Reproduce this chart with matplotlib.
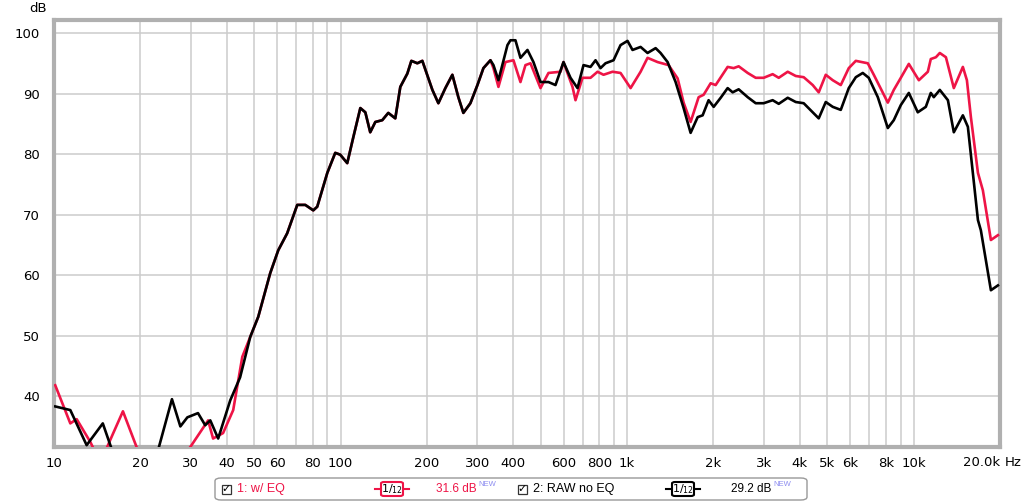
import numpy as np
import matplotlib
matplotlib.use("Agg")
from matplotlib import pyplot as plt
from matplotlib.patches import FancyBboxPatch, Rectangle

# RAW no EQ (black)
raw_freq = [10.1, 11.4, 13.0, 14.8, 16.1, 19.0, 22.9, 25.8, 27.6, 29.2, 31.8, 33.7, 35.1, 37.4,
            41.2, 44.6, 48.4, 51.6, 56.8, 60.6, 65.1, 70.6, 75.3, 80.3, 82.9, 89.9, 95.8, 99.7,
            105.5, 110.8, 117.2, 122.0, 126.9, 132.2, 139.8, 146.7, 155.2, 161.6, 171.0, 176.6,
            185.3, 192.9, 200.8, 209.1, 219.4, 232.1, 245.5, 257.6, 268.2, 283.8, 300.3, 315.1,
            333.4, 341.5, 355.5, 382.2, 391.5, 407.6, 424.3, 448.9, 471.0, 498.4, 531.5, 562.3,
            599.6, 634.3, 671.0, 704.2, 745.0, 775.6, 807.4, 840.4, 896.3, 948.2, 1003, 1044,
            1114, 1178, 1257, 1308, 1384, 1476, 1574, 1665, 1762, 1834, 1924, 2004, 2120, 2242,
            2334, 2450, 2634, 2809, 2995, 3219, 3380, 3633, 3875, 4131, 4442, 4661, 4932, 5217,
            5564, 5934, 6279, 6640, 6967, 7493, 8120, 8520, 9015, 9613, 10330, 11020, 11470,
            11750, 12330, 13160, 13800, 14840, 15450, 16080, 16750, 17150, 18590, 19670]
raw_db = [38.3, 37.7, 31.9, 35.5, 30.5, 27.0, 30.5, 39.5, 35.0, 36.5, 37.2, 35.2, 36.0, 33.0,
          39.3, 43.1, 49.8, 53.1, 60.3, 64.1, 66.9, 71.6, 71.6, 70.7, 71.3, 76.9, 80.2, 79.9,
          78.5, 82.8, 87.6, 86.9, 83.6, 85.3, 85.6, 86.8, 85.9, 91.1, 93.3, 95.4,
          95.0, 95.4, 93.0, 90.6, 88.4, 90.9, 93.1, 89.4, 86.8, 88.4, 91.4, 94.2,
          95.5, 94.7, 92.2, 98.0, 98.8, 98.8, 95.9, 97.2, 95.2, 91.9, 91.9, 91.4,
          95.2, 92.6, 90.9, 94.7, 94.4, 95.5, 94.2, 95.0, 95.5, 98.0, 98.7, 97.2,
          97.7, 96.7, 97.5, 96.7, 95.2, 91.9, 87.6, 83.5, 86.1, 86.4, 88.9, 87.8, 89.3, 90.9,
          90.2, 90.7, 89.4, 88.4, 88.4, 88.9, 88.3, 89.3, 88.6, 88.4, 86.9, 85.9, 88.6, 87.8,
          87.3, 90.9, 92.7, 93.4, 92.6, 89.4, 84.3, 85.6, 88.1, 90.1, 86.9, 87.8, 90.1,
          89.4, 90.6, 88.9, 83.6, 86.4, 84.5, 76.9, 69.1, 67.4, 57.5, 58.3]

# w/ EQ (red)
eq_freq = [10.1, 11.4, 12.0, 13.4, 14.5, 16.1, 17.4, 20.0, 23.0, 29.9, 34.5, 35.9, 38.9, 42.2,
           45.4, 48.4, 51.6, 56.8, 60.6, 65.1, 70.6, 75.3, 80.3, 82.9, 89.9, 95.8, 99.7,
           105.5, 110.8, 117.2, 122.0, 126.9, 132.2, 139.8, 146.7, 155.2, 161.6, 171.0, 176.6,
           185.3, 192.9, 200.8, 209.1, 219.4, 232.1, 245.5, 257.6, 268.2, 283.8, 300.3, 315.1,
           333.4, 341.5, 355.5, 376.1, 401.1, 424.3, 441.7, 459.8, 498.4, 531.5, 585.4, 599.6,
           644.6, 660.3, 698.6, 745.0, 788.2, 826.9, 889.1, 948.2, 1028, 1114, 1178, 1277,
           1395, 1500, 1574, 1665, 1776, 1849, 1956, 2036, 2242, 2353, 2450, 2634, 2809, 2995,
           3219, 3380, 3633, 3875, 4131, 4442, 4661, 4932, 5217, 5564, 5934, 6279, 6913, 7255,
           8120, 8520, 9015, 9613, 10420, 11200, 11470, 11950, 12330, 12950, 13800, 14840,
           15330, 15830, 16750, 17430, 18590, 19670]
eq_db = [41.8, 35.5, 36.2, 32.4, 29.0, 33.9, 37.5, 30.0, 25.0, 31.6, 36.0, 33.0, 33.9, 37.7,
         46.5, 49.8, 53.1, 60.3, 64.1, 66.9, 71.6, 71.6, 70.7, 71.3, 76.9, 80.2, 79.9,
         78.5, 82.8, 87.6, 86.9, 83.6, 85.3, 85.6, 86.8, 85.9, 91.1, 93.3, 95.4,
         95.0, 95.4, 93.0, 90.6, 88.4, 90.9, 93.1, 89.4, 86.8, 88.4, 91.4, 94.2,
         95.5, 94.2, 91.1, 95.2, 95.5, 91.9, 94.7, 95.0, 90.9, 93.4, 93.6, 95.2,
         91.1, 88.9, 92.6, 92.6, 93.6, 93.1, 93.6, 93.4, 90.9, 93.6, 95.9, 95.2,
         94.7, 92.5, 88.5, 85.3, 89.4, 89.8, 91.7, 91.4, 94.4, 94.2, 94.5, 93.4, 92.6, 92.6,
         93.2, 92.6, 93.6, 92.9, 92.7, 91.4, 90.2, 93.1, 92.2, 91.4, 94.2, 95.4, 95.0, 93.1,
         88.5, 90.6, 92.6, 94.9, 92.2, 93.6, 95.7, 96.0, 96.7, 96.0, 90.9, 94.4,
         92.2, 86.1, 76.9, 74.0, 65.8, 66.6]

grid_freqs = [10, 20, 30, 40, 50, 60, 70, 80, 90, 100, 200, 300, 400, 500, 600, 700, 800, 900,
              1000, 2000, 3000, 4000, 5000, 6000, 7000, 8000, 9000, 10000, 20000]
grid_labels = ["10", "20", "30", "40", "50", "60", "", "80", "", "100", "200", "300", "400", "",
               "600", "", "800", "", "1k", "2k", "3k", "4k", "5k", "6k", "", "8k", "", "10k", ""]
db_ticks = [40, 50, 60, 70, 80, 90, 100]

RED = "#ee1446"
W, H = 1024, 504
LEG_FONT = "Liberation Sans"

fig = plt.figure(figsize=(W / 100, H / 100), dpi=100)
ax = fig.add_axes([54 / W, 1 - 447 / H, (1000 - 54) / W, (447 - 20) / H])

ax.plot(eq_freq, eq_db, color=RED, lw=1.9, solid_joinstyle="round", zorder=3)
ax.plot(raw_freq, raw_db, color="black", lw=1.9, solid_joinstyle="round", zorder=4)

ax.set_xscale("log")
ax.set_xlim(10, 20000)
ax.set_ylim(31.6, 102.15)
ax.set_xticks(grid_freqs)
ax.set_xticklabels(grid_labels)
ax.xaxis.set_minor_locator(matplotlib.ticker.NullLocator())
ax.set_yticks(db_ticks)
ax.set_yticklabels([str(v) for v in db_ticks])
ax.tick_params(length=0, labelsize=9.5, pad=7, colors="black")
ax.tick_params(axis="y", pad=10)
ax.grid(True, color="#cccccc", lw=1.1)
ax.set_axisbelow(True)
for s in ax.spines.values():
    s.set_color("#b0b0b0")
    s.set_linewidth(3)

fig.text(38 / W, 1 - 8 / H, "dB", fontsize=9.5, ha="center", va="center")
fig.text(1000 / W, 1 - 463 / H, "20.0k", fontsize=9.5, ha="right", va="center")
fig.text(1005 / W, 1 - 463 / H, "Hz", fontsize=9.5, ha="left", va="center")

# legend strip at the bottom
fig.patches.append(FancyBboxPatch((215 / W, 1 - 500 / H), 592 / W, 22 / H,
                                  boxstyle="round,pad=0,rounding_size=0.006",
                                  transform=fig.transFigure, fc="white", ec="#999999", lw=1,
                                  zorder=0))

def legend_item(x0, name, color, icon_x, value, value_x):
    yc = 1 - 489 / H
    fig.patches.append(Rectangle((x0 / W, 1 - 494 / H), 9 / W, 9 / H, transform=fig.transFigure,
                                 fc="white", ec="#333333", lw=0.9, zorder=2))
    fig.text((x0 + 4.5) / W, yc, "\u2713", fontsize=8, ha="center", va="center",
             fontweight="bold", zorder=3)
    fig.text((x0 + 15) / W, yc, name, fontsize=9, family=LEG_FONT, color=color,
             ha="left", va="center")
    fig.lines.append(plt.Line2D([icon_x / W, (icon_x + 34) / W], [yc, yc], color=color, lw=1.5,
                                transform=fig.transFigure, zorder=1))
    fig.patches.append(FancyBboxPatch(((icon_x + 6) / W, 1 - 496 / H), 22 / W, 14 / H,
                                      boxstyle="round,pad=0,rounding_size=0.003",
                                      transform=fig.transFigure, fc="white", ec=color, lw=1.5,
                                      zorder=2))
    fig.text((icon_x + 17) / W, yc, r"$\mathregular{1/_{12}}$", fontsize=8, color="black",
             ha="center", va="center", zorder=3)
    fig.text(value_x / W, yc, value, fontsize=8.5, family=LEG_FONT, color=color,
             ha="left", va="center")
    fig.text((value_x + 42) / W, 1 - 484 / H, "NEW", fontsize=5.5, family=LEG_FONT,
             color="#8c8cf0", ha="left", va="center")

legend_item(222, "1: w/ EQ", RED, 375, "31.6 dB", 436)
legend_item(518, "2: RAW no EQ", "black", 666, "29.2 dB", 731)

plt.savefig("out.png", dpi=100)
